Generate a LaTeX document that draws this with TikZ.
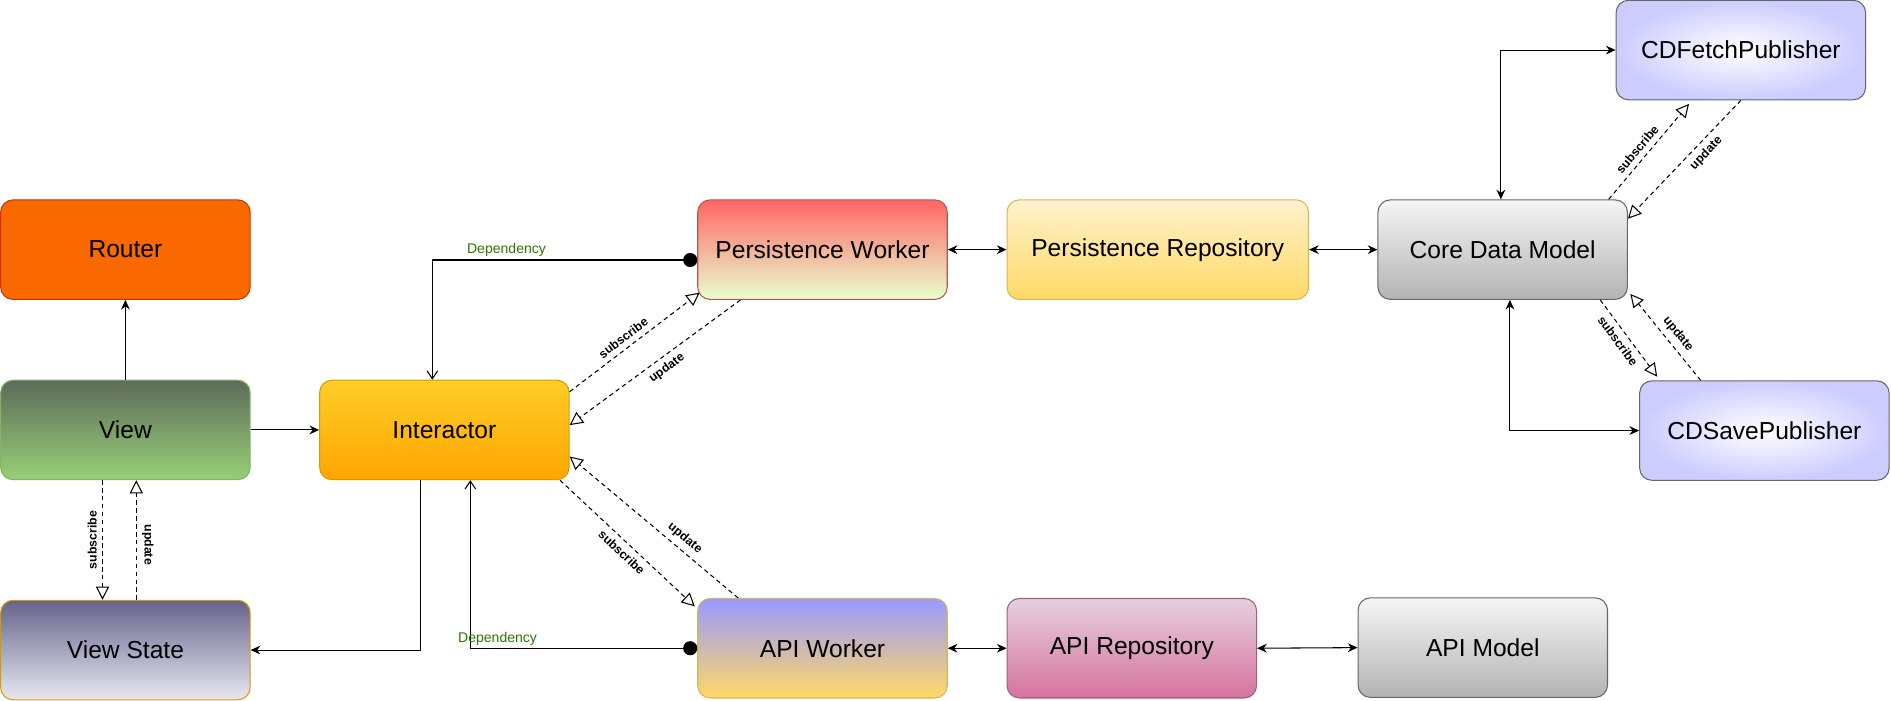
\documentclass[tikz,border=0pt]{standalone}
\usepackage{fontspec}
\setmainfont{Liberation Sans}
\usetikzlibrary{arrows.meta}
\definecolor{rtfill}{HTML}{FA6800}
\definecolor{rtdraw}{HTML}{C73500}
\definecolor{vtop}{HTML}{5E6B5B}
\definecolor{vbot}{HTML}{97D077}
\definecolor{vdraw}{HTML}{82B366}
\definecolor{vstop}{HTML}{66638A}
\definecolor{vsbot}{HTML}{E8E8F2}
\definecolor{odraw}{HTML}{D79B00}
\definecolor{itop}{HTML}{FFCD28}
\definecolor{ibot}{HTML}{FFA500}
\definecolor{pwtop}{HTML}{FF6666}
\definecolor{pwbot}{HTML}{E6FFCC}
\definecolor{pwdraw}{HTML}{B85450}
\definecolor{prtop}{HTML}{FFF2CC}
\definecolor{prbot}{HTML}{FFD966}
\definecolor{ydraw}{HTML}{D6B656}
\definecolor{gtop}{HTML}{F5F5F5}
\definecolor{gbot}{HTML}{B3B3B3}
\definecolor{gdraw}{HTML}{666666}
\definecolor{pub}{HTML}{CCCCFF}
\definecolor{awtop}{HTML}{9999FF}
\definecolor{artop}{HTML}{E6D0DE}
\definecolor{arbot}{HTML}{D5739D}
\definecolor{ardraw}{HTML}{996185}
\definecolor{dep}{HTML}{2D7600}

\begin{document}
\begin{tikzpicture}[x=0.02412cm,y=-0.02412cm,line width=0.6pt,
box/.style={rounded corners=7pt,minimum width=4.99cm,minimum height=1.99cm,font=\fontsize{14}{16}\selectfont},
lnk/.style={-{Stealth[length=5.5pt,width=5pt]}},
twoway/.style={{Stealth[length=5.5pt,width=5pt]}-{Stealth[length=5.5pt,width=5pt]}},
pubsub/.style={dash pattern=on 2.5pt off 2pt,-{Triangle[open,fill=white,length=7.5pt,width=7.5pt]}},
depend/.style={{Circle[length=8pt]}-{Straight Barb[length=4.5pt,width=6pt]}},
lbl/.style={font=\fontsize{7}{8}\selectfont\bfseries,inner sep=3pt},
deplbl/.style={font=\fontsize{8}{9}\selectfont,text=dep,inner sep=1.5pt}]
\useasboundingbox (0,0) rectangle (1568,581);
\node[box,draw=rtdraw,fill=rtfill] (R) at (104,207) {Router};
\node[box,draw=vdraw,top color=vtop,bottom color=vbot] (V) at (104,356.5) {View};
\node[box,draw=odraw,top color=vstop,bottom color=vsbot] (VS) at (104,539) {View State};
\node[box,draw=odraw,top color=itop,bottom color=ibot] (I) at (368.5,356.5) {Interactor};
\node[box,draw=pwdraw,top color=pwtop,bottom color=pwbot] (PW) at (682,207) {Persistence Worker};
\node[box,draw=ydraw,top color=prtop,bottom color=prbot,minimum width=6.03cm] (PR) at (960,207) {Persistence Repository};
\node[box,draw=gdraw,top color=gtop,bottom color=gbot] (CDM) at (1246,207) {Core Data Model};
\node[box,draw=gdraw,inner color=white,outer color=pub] (CDF) at (1443.5,41.5) {CDFetchPublisher};
\node[box,draw=gdraw,inner color=white,outer color=pub] (CDS) at (1463,357) {CDSavePublisher};
\node[box,draw=ydraw,top color=awtop,bottom color=prbot] (AW) at (682,537.5) {API Worker};
\node[box,draw=ardraw,top color=artop,bottom color=arbot] (AR) at (938.5,537.5) {API Repository};
\node[box,draw=gdraw,top color=gtop,bottom color=gbot] (AM) at (1229.5,537) {API Model};

\draw[lnk] (V.north) -- (R.south);
\draw[lnk] (V.east) -- (I.west);
\draw[lnk] ([shift={(-20,0)}]I.south) |- (VS.east);
\draw[pubsub] ([shift={(-19,0)}]V.south) -- node[lbl,midway,rotate=90,anchor=south]{subscribe} ([shift={(-19,0)}]VS.north);
\draw[pubsub] ([shift={(9,0)}]VS.north) -- node[lbl,pos=0.46,rotate=-90,anchor=south]{update} ([shift={(9,0)}]V.south);
\draw[depend] ([shift={(0,8.6)}]PW.west) -| node[deplbl,pos=0.36,above]{Dependency} ([shift={(-10,0)}]I.north);
\draw[depend] (AW.west) -| node[deplbl,pos=0.44,above]{Dependency} ([shift={(21.5,0)}]I.south);
\draw[pubsub] ([shift={(0,10)}]I.north east) -- node[lbl,sloped,above,pos=0.46]{subscribe} ([shift={(2,-6)}]PW.south west);
\draw[pubsub] ([shift={(-68,0)}]PW.south) -- node[lbl,sloped,below,pos=0.47]{update} ([shift={(0,-4)}]I.east);
\draw[pubsub] ([shift={(-8,0)}]I.south east) -- node[lbl,sloped,below,pos=0.51]{subscribe} ([shift={(-2,7)}]AW.north west);
\draw[pubsub] ([shift={(-70,0)}]AW.north) -- node[lbl,sloped,above,pos=0.36]{update} ([shift={(0,22)}]I.east);
\draw[twoway] (PW.east) -- (PR.west);
\draw[twoway] (PR.east) -- (CDM.west);
\draw[twoway] ([shift={(-1.5,0)}]CDM.north) |- (CDF.west);
\draw[twoway] ([shift={(6,0)}]CDM.south) |- (CDS.west);
\draw[pubsub] ([shift={(-16,0)}]CDM.north east) -- node[lbl,sloped,above,pos=0.455]{subscribe} ([shift={(-43,3)}]CDF.south);
\draw[pubsub] (CDF.south) -- node[lbl,sloped,below,pos=0.38]{update} ([shift={(0,16)}]CDM.north east);
\draw[pubsub] ([shift={(-23,0)}]CDM.south east) -- node[lbl,sloped,below,pos=0.455]{subscribe} ([shift={(15,-3)}]CDS.north west);
\draw[pubsub] ([shift={(51,0)}]CDS.north west) -- node[lbl,sloped,above,pos=0.45]{update} ([shift={(2,-5)}]CDM.south east);
\draw[twoway] (AW.east) -- (AR.west);
\draw[twoway] (AR.east) -- (AM.west);
\end{tikzpicture}
\end{document}
